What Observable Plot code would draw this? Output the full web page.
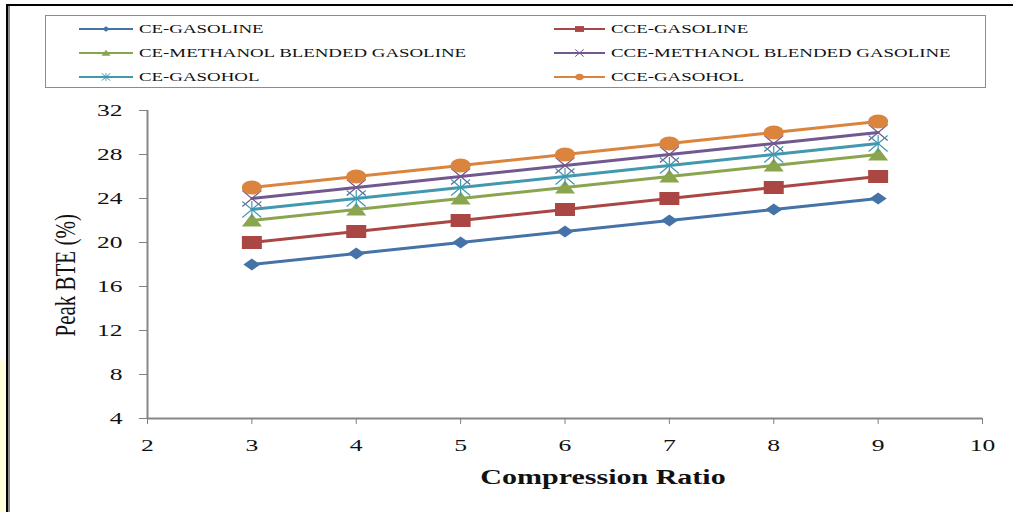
<!DOCTYPE html>
<html>
<head>
<meta charset="utf-8">
<script src="https://cdn.jsdelivr.net/npm/d3@7"></script>
<script src="https://cdn.jsdelivr.net/npm/@observablehq/plot@0.6"></script>
<style>
  html, body { margin: 0; padding: 0; background: #fff; }
  #wrap { position: relative; width: 1013px; height: 512px; overflow: hidden; background: #fff; }
  .abs { position: absolute; }
  .legtext { position: absolute; white-space: nowrap; font-family: "Liberation Serif", serif; font-size: 13px; line-height: 16px; color: #111; transform: scaleX(1.45); transform-origin: 0 50%; }
</style>
</head>
<body>
<div id="wrap">
  <div class="abs" style="left:0;top:360px;width:6px;height:152px;background:#FFFFDC"></div>
  <div class="abs" style="left:6px;top:4px;width:1007px;height:2px;background:#000"></div>
  <div class="abs" style="left:6px;top:4px;width:2px;height:508px;background:#000"></div>
  <div class="abs" style="left:8px;top:6px;width:2px;height:506px;background:#8a8a8a"></div>
  <div id="legend" class="abs" style="left:45px;top:15px;width:941px;height:73px;border:1.5px solid #8c8c8c;box-sizing:border-box"></div>
  <div id="chart" class="abs" style="left:0;top:95px"></div>
</div>
<script>
// ---- data ----
const ratios = [3, 4, 5, 6, 7, 8, 9];
const ceGasoline = [18, 19, 20, 21, 22, 23, 24];
const cceGasoline = [20, 21, 22, 23, 24, 25, 26];
const ceMethanol = [22, 23, 24, 25, 26, 27, 28];
const cceMethanol = [24, 25, 26, 27, 28, 29, 30];
const ceGasohol = [23, 24, 25, 26, 27, 28, 29];
const cceGasohol = [25, 26, 27, 28, 29, 30, 31];
const seriesNames = ["CE-GASOLINE", "CCE-GASOLINE", "CE-METHANOL BLENDED GASOLINE", "CCE-METHANOL BLENDED GASOLINE", "CE-GASOHOL", "CCE-GASOHOL"];
const seriesValues = [ceGasoline, cceGasoline, ceMethanol, cceMethanol, ceGasohol, cceGasohol];
const seriesColors = ["#4572A7", "#AA4643", "#89A54E", "#71588F", "#4198AF", "#DB843D"];
const xTicks = [2, 3, 4, 5, 6, 7, 8, 9, 10];
const yTicks = [4, 8, 12, 16, 20, 24, 28, 32];
const xLabel = "Compression Ratio";
const yLabel = "Peak BTE (%)";

// ---- marker shapes (horizontally stretched like the original) ----
function makeSymbols(k) {
  const ellipse = (c, rx, ry) => {
    const m = 0.5523;
    c.moveTo(rx, 0);
    c.bezierCurveTo(rx, ry * m, rx * m, ry, 0, ry);
    c.bezierCurveTo(-rx * m, ry, -rx, ry * m, -rx, 0);
    c.bezierCurveTo(-rx, -ry * m, -rx * m, -ry, 0, -ry);
    c.bezierCurveTo(rx * m, -ry, rx, -ry * m, rx, 0);
    c.closePath();
  };
  return [
    {draw(c) { c.moveTo(-8.5 * k, 0); c.lineTo(0, -6 * k); c.lineTo(8.5 * k, 0); c.lineTo(0, 6 * k); c.closePath(); }},
    {draw(c) { c.moveTo(-10 * k, -6.5 * k); c.lineTo(10 * k, -6.5 * k); c.lineTo(10 * k, 6.5 * k); c.lineTo(-10 * k, 6.5 * k); c.closePath(); }},
    {draw(c) { c.moveTo(0, -7 * k); c.lineTo(10 * k, 6 * k); c.lineTo(-10 * k, 6 * k); c.closePath(); }},
    {draw(c) { c.moveTo(-9.5 * k, -8 * k); c.lineTo(9.5 * k, 8 * k); c.moveTo(-9.5 * k, 8 * k); c.lineTo(9.5 * k, -8 * k); }},
    {draw(c) { c.moveTo(-9.5 * k, -8 * k); c.lineTo(9.5 * k, 8 * k); c.moveTo(-9.5 * k, 8 * k); c.lineTo(9.5 * k, -8 * k); c.moveTo(0, -8.5 * k); c.lineTo(0, 8.5 * k); }},
    {draw(c) { ellipse(c, 10 * k, 7 * k); }}
  ];
}
const symbols = makeSymbols(1);
const legendSymbols = makeSymbols(0.45);
const filled = [true, true, true, false, false, true];

// ---- table ----
const rows = [];
seriesNames.forEach((name, s) => {
  ratios.forEach((r, i) => rows.push({series: name, idx: s, ratio: r, bte: seriesValues[s][i]}));
});

const marks = [
  Plot.ruleX([2], {stroke: "#868686", strokeWidth: 2}),
  Plot.ruleY([4], {stroke: "#868686", strokeWidth: 2}),
  Plot.axisY({ticks: yTicks, tickSize: 8, tickPadding: 17, label: null, stroke: "#808080", fill: "#111"}),
  Plot.axisX({ticks: xTicks, tickSize: 6, tickPadding: 14, label: null, stroke: "#808080", fill: "#111"})
];
seriesNames.forEach((name, s) => {
  const d = rows.filter(r => r.idx === s);
  marks.push(Plot.line(d, {x: "ratio", y: "bte", stroke: seriesColors[s], strokeWidth: 3}));
  marks.push(Plot.dot(d, filled[s]
    ? {x: "ratio", y: "bte", symbol: symbols[s], fill: seriesColors[s], stroke: "none", r: 5}
    : {x: "ratio", y: "bte", symbol: symbols[s], fill: "none", stroke: seriesColors[s], strokeWidth: 1.2, r: 5}));
});
marks.push(Plot.text([xLabel], {frameAnchor: "bottom", dy: 65, dx: 38, fontWeight: "bold", fontSize: 20, fill: "#111"}));
marks.push(Plot.text([yLabel], {frameAnchor: "left", dx: -82, dy: 72, rotate: -90, fontSize: 21, fill: "#111"}));

const chart = Plot.plot({
  width: 1013,
  height: 417,
  marginLeft: 147,
  marginRight: 31,
  marginTop: 15,
  marginBottom: 94,
  x: {domain: [2, 10]},
  y: {domain: [4, 32]},
  style: {background: "transparent", fontFamily: "Liberation Serif, serif", fontSize: "17px", color: "#111"},
  marks
});
document.getElementById("chart").appendChild(chart);

// stretch texts horizontally like the original picture
d3.select(chart).selectAll("text").each(function() {
  const t = this.textContent;
  if (t === yLabel) {
    const tr = this.getAttribute("transform") || "";
    this.setAttribute("transform", tr + " scale(1,1.4)");
    return;
  }
  const len = this.getComputedTextLength();
  this.setAttribute("textLength", (len * 1.5).toFixed(1));
  this.setAttribute("lengthAdjust", "spacingAndGlyphs");
});

// ---- legend ----
const legend = document.getElementById("legend");
const rowY = [28, 52, 76];
const colX = [[78, 132, 138], [553, 604, 610]];
seriesNames.forEach((name, s) => {
  const col = s % 2, row = Math.floor(s / 2);
  const [x0, x1, tx] = colX[col];
  const y = rowY[row];
  const p = d3.path();
  legendSymbols[s].draw(p);
  const ns = "http://www.w3.org/2000/svg";
  const svg = document.createElementNS(ns, "svg");
  svg.setAttribute("width", x1 - x0);
  svg.setAttribute("height", 14);
  svg.style.position = "absolute";
  svg.style.left = (x0 - 45) + "px";
  svg.style.top = (y - 7 - 15) + "px";
  const line = document.createElementNS(ns, "line");
  line.setAttribute("x1", 0); line.setAttribute("x2", x1 - x0);
  line.setAttribute("y1", 7); line.setAttribute("y2", 7);
  line.setAttribute("stroke", seriesColors[s]); line.setAttribute("stroke-width", 2);
  svg.appendChild(line);
  const path = document.createElementNS(ns, "path");
  path.setAttribute("d", p.toString());
  path.setAttribute("transform", `translate(${(x1 - x0) / 2},7)`);
  if (filled[s]) { path.setAttribute("fill", seriesColors[s]); }
  else { path.setAttribute("fill", "none"); path.setAttribute("stroke", seriesColors[s]); path.setAttribute("stroke-width", 1); }
  svg.appendChild(path);
  legend.appendChild(svg);
  const span = document.createElement("span");
  span.className = "legtext";
  span.textContent = name;
  span.style.left = (tx - 45) + "px";
  span.style.top = (y - 8 - 15) + "px";
  legend.appendChild(span);
});
</script>
</body>
</html>
